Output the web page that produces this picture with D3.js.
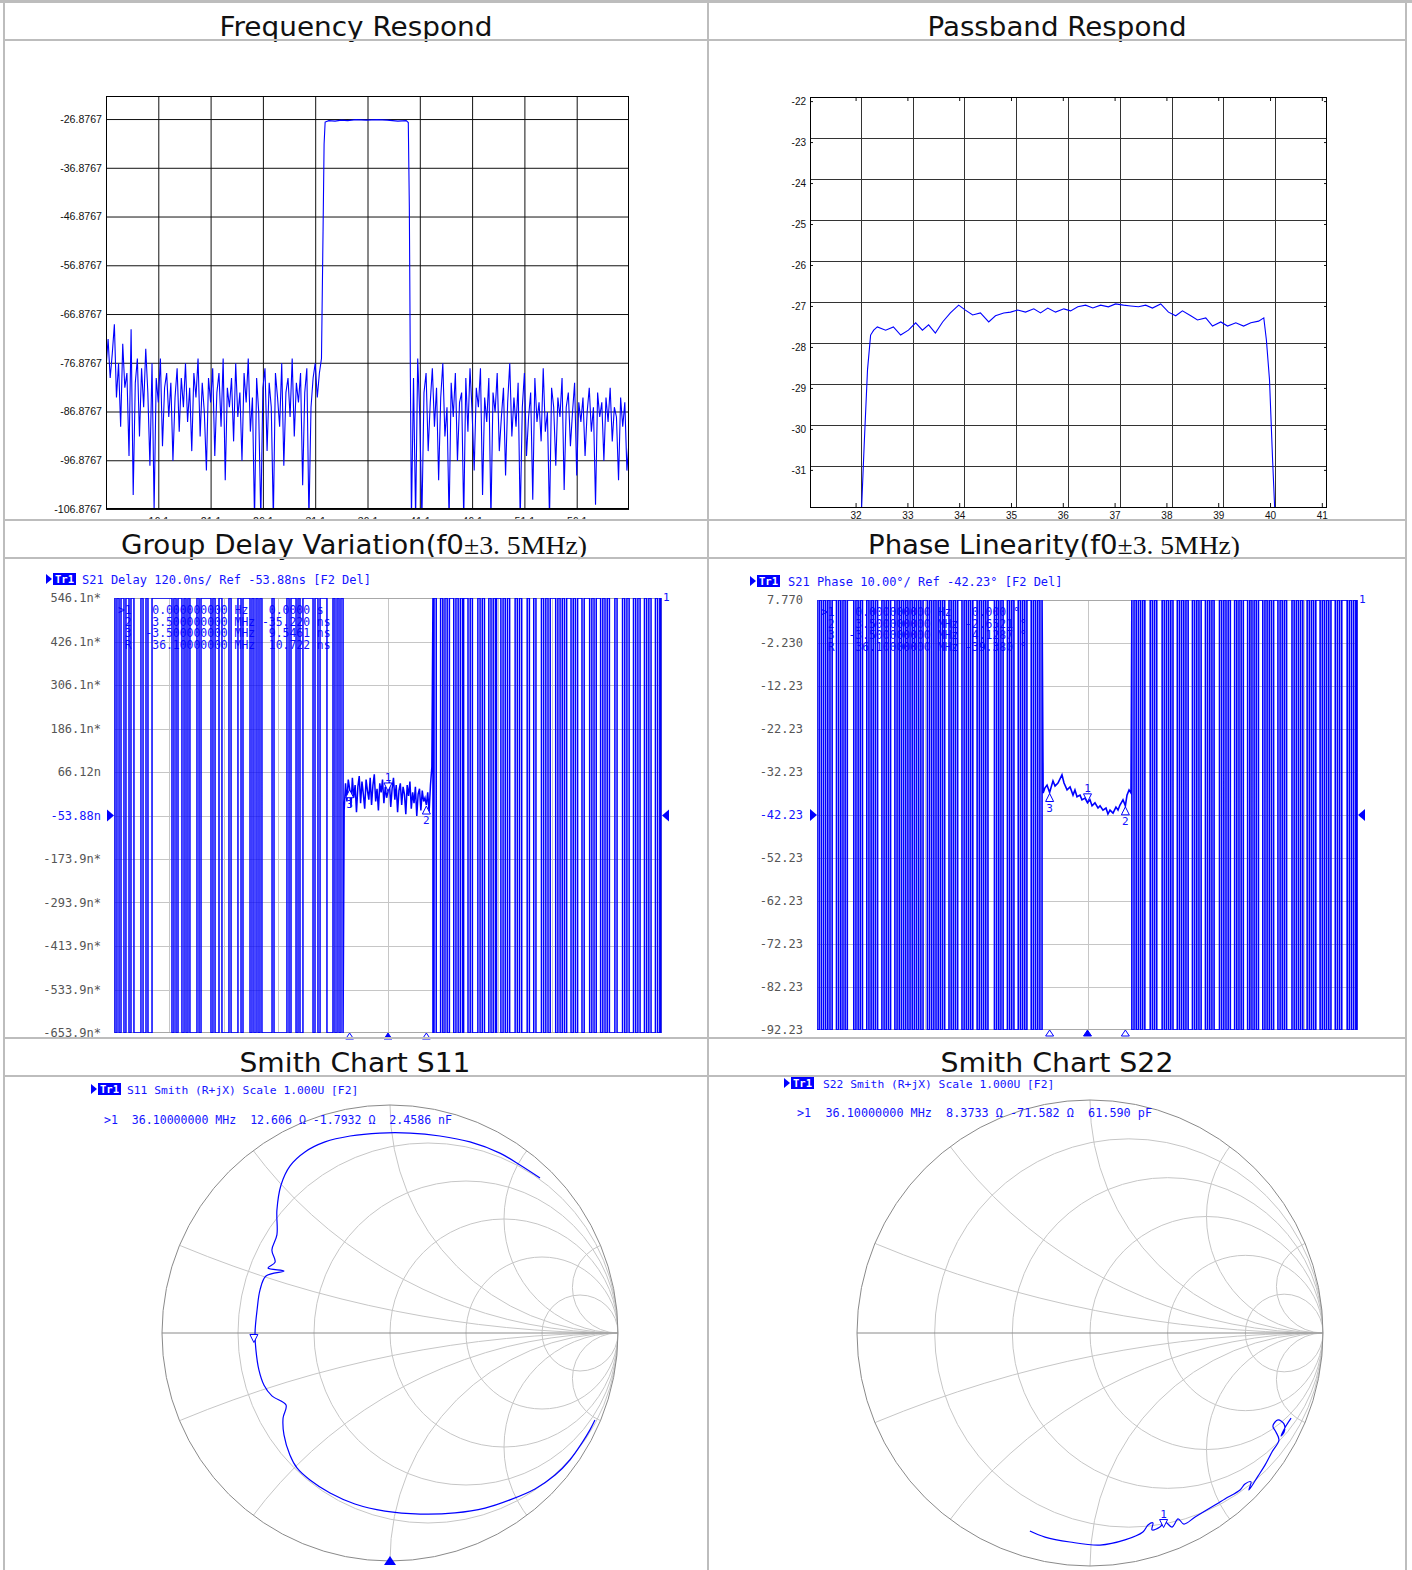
<!DOCTYPE html>
<html>
<head>
<meta charset="utf-8">
<script src="https://cdn.jsdelivr.net/npm/d3@7/dist/d3.min.js"></script>
<style>
body { margin: 0; background: #fff; }
svg { display: block; }
</style>
</head>
<body>
<svg id="sheet" width="1412" height="1570"></svg>
<script>

// ---------- Frequency Respond (dB vs MHz) ----------
var frXTicks = [16.1, 21.1, 26.1, 31.1, 36.1, 41.1, 46.1, 51.1, 56.1];
var frYTicks = [-26.8767, -36.8767, -46.8767, -56.8767, -66.8767, -76.8767, -86.8767, -96.8767, -106.8767];
var frStep = 0.2;
var frLowStart = 11.1;
var frLowDb = [
    -78, -72, -80, -75, -69, -84, -77, -90, -73, -82,
    -79, -96, -70, -104, -81, -76, -92, -78, -86, -74,
    -83, -98, -77, -107, -80, -85, -76, -94, -82, -79,
    -88, -81, -97, -84, -78, -91, -80, -86, -77, -89,
    -82, -95, -79, -84, -76, -92, -81, -87, -99, -80,
    -85, -78, -96, -83, -79, -90, -76, -101, -82, -86,
    -80, -93, -77, -88, -83, -97, -79, -85, -76, -91,
    -84, -109, -80, -87, -109, -82, -78, -95, -81, -86,
    -109, -79, -84, -90, -77, -98, -83, -80, -88, -76,
    -92, -81, -85, -79, -102, -83, -78, -109, -86, -80,
    -77, -84, -79
];
var frEdgeF  = [31.7, 31.85, 31.95, 32.05, 32.4, 33.0, 33.6, 34.2, 35.0, 36.0, 37.0, 38.0, 39.0, 39.8, 40.0, 40.1, 40.2, 40.3];
var frEdgeDb = [-76, -50, -32, -27.5, -27.2, -27.3, -27.1, -27.2, -27.0, -27.1, -27.0, -27.1, -27.3, -27.2, -27.6, -45, -80, -109];
var frHighStart = 40.5;
var frHighDb = [
    -80, -109, -76, -88, -109, -83, -79, -95, -85, -78,
    -90, -82, -101, -84, -77, -92, -86, -109, -81, -88,
    -79, -97, -85, -83, -109, -80, -91, -78, -87, -99,
    -82, -86, -78, -104, -84, -89, -80, -109, -83, -87,
    -79, -95, -88, -82, -100, -85, -77, -92, -84, -90,
    -81, -109, -86, -79, -96, -88, -83, -105, -80, -89,
    -85, -93, -78, -91, -87, -109, -82, -86, -98, -84,
    -88, -80, -103, -86, -83, -94, -87, -81, -100, -85,
    -89, -84, -96, -87, -82, -91, -86, -106, -83, -88,
    -85, -97, -84, -89, -82, -93, -86, -88, -101, -84,
    -90, -85, -99, -93
];

// ---------- Passband Respond ----------
var pbXTicks = [32, 33, 34, 35, 36, 37, 38, 39, 40, 41];
var pbXGrid = [32.1, 33.1, 34.1, 35.1, 36.1, 37.1, 38.1, 39.1, 40.1];
var pbYTicks = [-22, -23, -24, -25, -26, -27, -28, -29, -30, -31];
var pbYGrid = [-22.9, -23.9, -24.9, -25.9, -26.9, -27.9, -28.9, -29.9, -30.9];
var pbF = [32.116, 32.17, 32.23, 32.29, 32.35, 32.42, 32.58, 32.73, 32.87, 33.02, 33.16, 33.29, 33.41, 33.54, 33.68,
    33.83, 33.99, 34.12, 34.26, 34.41, 34.57, 34.70, 34.86, 34.99, 35.13, 35.28, 35.44, 35.57, 35.71, 35.86,
    36.02, 36.15, 36.29, 36.44, 36.58, 36.73, 36.88, 37.02, 37.17, 37.31, 37.46, 37.60, 37.73, 37.89, 38.04,
    38.18, 38.31, 38.47, 38.60, 38.76, 38.89, 39.05, 39.18, 39.34, 39.49, 39.63, 39.78, 39.88, 39.93, 39.99,
    40.05, 40.09];
var pbDb = [-31.93, -30.27, -28.56, -27.71, -27.59, -27.51, -27.59, -27.51, -27.71, -27.59, -27.41, -27.59, -27.46, -27.66, -27.39,
    -27.17, -26.98, -27.10, -27.22, -27.17, -27.39, -27.24, -27.17, -27.15, -27.10, -27.15, -27.07, -27.17, -27.05, -27.15,
    -27.07, -27.12, -27.02, -26.98, -27.05, -26.98, -27.02, -26.95, -26.98, -27.00, -27.02, -26.98, -27.05, -26.95, -27.15,
    -27.24, -27.12, -27.24, -27.34, -27.29, -27.49, -27.39, -27.49, -27.41, -27.49, -27.41, -27.37, -27.29, -27.83, -28.80,
    -30.76, -31.93];

// ---------- analyzer screens (shared 11.1 .. 61.1 MHz sweep) ----------
var vnaXGrid = [11.1, 16.1, 21.1, 26.1, 31.1, 36.1, 41.1, 46.1, 51.1, 56.1, 61.1];

var gdYTicks = [546.12, 426.12, 306.12, 186.12, 66.12, -53.88, -173.88, -293.88, -413.88, -533.88, -653.88];
var gdYLabels = ["546.1n*", "426.1n*", "306.1n*", "186.1n*", "66.12n", "-53.88n", "-173.9n*", "-293.9n*", "-413.9n*", "-533.9n*", "-653.9n*"];
var gdLeftLines = [11.19, 11.37, 11.56, 11.74, 12.01, 12.19, 12.47, 12.65, 12.92, 13.56, 13.75, 14.02, 14.20, 14.57,
    16.39, 16.57, 16.76, 16.94, 17.30, 17.49, 17.67, 17.85, 18.03, 18.67, 18.86, 19.04, 19.95, 20.13, 20.32,
    20.68, 20.95, 21.59, 21.78, 22.41, 22.69, 22.87, 23.51, 23.69, 23.87, 24.06, 24.24, 24.42, 24.60, 25.52,
    25.70, 26.88, 27.07, 27.25, 27.71, 27.89, 28.07, 28.34, 29.26, 29.44, 29.71, 29.90, 30.53, 31.08, 31.26,
    31.45, 31.63, 31.81, 32.0];
var gdRightLines = [40.2, 40.3, 40.5, 40.9, 41.1, 41.3, 41.5, 41.7, 42.1, 42.3, 42.5, 42.7, 42.9, 43.0, 43.4, 43.6,
    43.8, 44.3, 44.5, 44.7, 44.9, 45.3, 45.5, 45.7, 45.9, 46.0, 46.4, 46.6, 46.8, 47.0, 47.2, 47.7, 47.9, 48.1,
    48.3, 48.8, 49.0, 49.4, 49.6, 50.1, 50.3, 50.5, 50.7, 50.9, 51.4, 51.6, 51.8, 52.0, 52.2, 52.4, 52.8, 53.0,
    53.2, 53.4, 53.8, 54.0, 54.5, 54.7, 54.9, 55.1, 55.5, 55.7, 55.9, 56.1, 56.3, 56.8, 57.0, 57.5, 57.7, 57.9,
    58.1, 58.5, 58.7, 58.9, 59.1, 59.5, 59.7, 59.9, 60.1, 60.5, 60.7, 60.9, 61.0];
var gdPassStart = 32.1, gdPassStep = 0.125;
var gdPassNs = [
    -40, 35, -15, 45, 20, -30, 50, -5, 30, -45,
    25, 55, -20, 40, 5, -35, 45, 15, -10, 50,
    -25, 30, 60, -15, 20, -40, 35, 10, 45, -20,
    25, -5, 11, 40, -30, 20, 50, -10, 30, -45,
    15, 35, -25, 25, 5, -50, 30, 0, 40, -35,
    10, -20, 25, -55, 5, 20, -40, 15, -15, -5,
    -25, 10, -45, 30, 80
];
var gdTableRows = [
    ">1   0.000000000 Hz   0.0000 s",
    " 2   3.500000000 MHz -35.220 ns",
    " 3  -3.500000000 MHz  9.5461 ns",
    " R   36.10000000 MHz  10.722 ns"
];

var phYTicks = [7.77, -2.23, -12.23, -22.23, -32.23, -42.23, -52.23, -62.23, -72.23, -82.23, -92.23];
var phYLabels = ["7.770", "-2.230", "-12.23", "-22.23", "-32.23", "-42.23", "-52.23", "-62.23", "-72.23", "-82.23", "-92.23"];
var phLeftLines = [11.1, 11.3, 11.5, 11.7, 11.9, 12.1, 12.3, 12.5, 12.9, 13.1, 13.3, 13.5, 13.7, 13.9, 14.5, 14.7,
    14.9, 15.1, 15.3, 15.7, 15.9, 16.1, 16.3, 16.5, 16.7, 17.1, 17.3, 17.5, 17.7, 17.9, 18.3, 18.5, 18.7, 18.9,
    19.1, 19.3, 19.5, 19.7, 19.9, 20.1, 20.3, 20.5, 20.7, 20.9, 21.3, 21.5, 21.7, 21.9, 22.1, 22.3, 22.5, 22.7,
    22.9, 23.3, 23.5, 23.7, 23.9, 24.1, 24.5, 24.7, 24.9, 25.1, 25.3, 25.5, 25.9, 26.1, 26.3, 26.5, 26.7, 26.9,
    27.5, 27.7, 27.9, 28.1, 28.3, 28.7, 28.9, 29.1, 29.3, 29.7, 29.9, 30.1, 30.3, 30.5, 30.9, 31.1, 31.3, 31.5,
    31.7, 31.9];
var phRightLines = [40.2, 40.4, 40.6, 40.8, 41.0, 41.2, 41.4, 41.9, 42.1, 42.3, 42.5, 43.0, 43.2, 43.4, 43.6, 43.8,
    44.0, 44.4, 44.6, 44.8, 45.0, 45.2, 45.4, 45.8, 46.0, 46.2, 46.4, 46.6, 47.0, 47.2, 47.4, 47.6, 47.8, 48.3,
    48.5, 48.7, 48.9, 49.1, 49.3, 49.7, 49.9, 50.1, 50.3, 50.5, 50.9, 51.1, 51.3, 51.5, 51.7, 51.9, 52.3, 52.5,
    52.7, 52.9, 53.1, 53.3, 53.7, 53.9, 54.1, 54.3, 54.5, 55.0, 55.2, 55.4, 55.6, 55.8, 56.0, 56.4, 56.6, 56.8,
    57.0, 57.2, 57.6, 57.8, 58.0, 58.2, 58.4, 58.6, 59.0, 59.2, 59.4, 59.6, 60.1, 60.3, 60.5, 60.7, 60.9, 61.0];
var phFreq = [32.0, 32.17, 32.36, 32.6, 32.91, 33.1, 33.37, 33.74, 33.93, 34.21, 34.49, 34.76, 34.94, 35.13, 35.41,
    35.59, 35.87, 36.1, 36.33, 36.52, 36.79, 37.07, 37.26, 37.53, 37.81, 37.99, 38.18, 38.46, 38.73, 38.92,
    39.1, 39.38, 39.6, 39.75, 39.94, 40.12];
var phDeg = [-37.1, -35.9, -35.3, -37.0, -34.3, -35.5, -34.8, -32.9, -34.8, -36.4, -35.7, -37.6, -36.4, -38.0, -37.6,
    -38.7, -38.3, -39.4, -38.7, -40.1, -39.4, -40.6, -40.1, -41.1, -40.6, -42.0, -41.1, -41.8, -40.4, -41.1,
    -39.9, -38.7, -40.1, -37.6, -36.4, -37.1];
var phTableRows = [
    ">1   0.000000000 Hz   0.000 °",
    " 2   3.500000000 MHz -2.6521 °",
    " 3  -3.500000000 MHz  4.1287 °",
    " R   36.10000000 MHz -39.380 °"
];
var markerFreqs = [36.1, 39.6, 32.6];   // markers 1, 2, 3

// ---------- Smith charts (reflection coefficient, re / im) ----------
var smithR = [0.2, 0.5, 1, 2, 5];
var smithX = [0.2, 0.5, 1, 2, 5];
var s11Re = [0.658, 0.570, 0.482, 0.351, 0.219, 0.088, -0.044, -0.175, -0.285, -0.373,
    -0.439, -0.478, -0.496, -0.496, -0.518, -0.504, -0.535, -0.465, -0.544, -0.570,
    -0.583, -0.592, -0.588, -0.575, -0.553, -0.518, -0.456, -0.469, -0.465, -0.439,
    -0.408, -0.351, -0.263, -0.154, -0.022, 0.132, 0.285, 0.417, 0.526, 0.636,
    0.724, 0.789, 0.842, 0.877, 0.899];
var s11Im = [0.680, 0.737, 0.789, 0.838, 0.864, 0.877, 0.877, 0.864, 0.838, 0.794,
    0.732, 0.649, 0.539, 0.430, 0.364, 0.311, 0.285, 0.272, 0.250, 0.189,
    0.101, 0.0, -0.075, -0.162, -0.228, -0.276, -0.316, -0.373, -0.447, -0.535,
    -0.592, -0.645, -0.702, -0.750, -0.781, -0.794, -0.789, -0.768, -0.732, -0.684,
    -0.623, -0.557, -0.482, -0.425, -0.382];
var s11Marker = [-0.597, -0.046];
var s22Re = [-0.258, -0.193, -0.086, 0.043, 0.150, 0.227, 0.249, 0.270, 0.266, 0.300,
    0.322, 0.352, 0.378, 0.403, 0.451, 0.515, 0.579, 0.644, 0.665, 0.691,
    0.682, 0.721, 0.751, 0.781, 0.811, 0.798, 0.785, 0.807, 0.833, 0.833,
    0.820, 0.841, 0.863];
var s22Im = [-0.850, -0.876, -0.897, -0.910, -0.888, -0.854, -0.824, -0.815, -0.845, -0.833,
    -0.811, -0.833, -0.798, -0.820, -0.790, -0.751, -0.712, -0.674, -0.648, -0.639,
    -0.674, -0.614, -0.567, -0.511, -0.459, -0.425, -0.399, -0.373, -0.391, -0.425,
    -0.442, -0.399, -0.365];
var s22Marker = [0.3158, -0.8392];


var svg = d3.select("#sheet");
var BLUE = "#0000ff", TXT = "#1414ff", GRID = "#c6c6c6", FRAME = "#bdbdbd";
var MONO = "'DejaVu Sans Mono', monospace";
var SANS = "'Liberation Sans', Arial, sans-serif";

function clip_rect(id, x, y, w, h) {
    svg.append("clipPath").attr("id", id).append("rect")
        .attr("x", x).attr("y", y).attr("width", w).attr("height", h);
    return "url(#" + id + ")";
}

function style_axis(a, size) {
    a.select(".domain").remove();
    a.selectAll("line").attr("stroke", "#111");
    a.selectAll("text").attr("fill", "#111").style("font", size + "px " + SANS);
}


function draw_freq_respond() {
    var g = svg.append("g").attr("clip-path", clip_rect("cell_fr", 5, 41, 702, 478));
    var x = d3.scaleLinear().domain([11.1, 61.1]).range([106, 629]);
    var y = d3.scaleLinear().domain([-22.15, -106.8767]).range([96, 509]);

    style_axis(g.append("g").attr("transform", "translate(106,0)")
        .call(d3.axisLeft(y).tickValues(frYTicks).tickSize(-523).tickPadding(4)
            .tickFormat(function(d) { return d.toFixed(4); })), 10.6);
    style_axis(g.append("g").attr("transform", "translate(0,509)")
        .call(d3.axisBottom(x).tickValues(frXTicks).tickSize(-413).tickPadding(8)
            .tickFormat(function(d) { return d.toFixed(1); })), 10.6);

    var pts = [];
    frLowDb.forEach(function(v, i) { pts.push([frLowStart + i * frStep, v]); });
    frEdgeF.forEach(function(f, i) { pts.push([f, frEdgeDb[i]]); });
    frHighDb.forEach(function(v, i) { pts.push([frHighStart + i * frStep, v]); });

    g.append("path").datum(pts)
        .attr("clip-path", clip_rect("plot_fr", 106, 96, 523, 413))
        .attr("d", d3.line().x(function(d) { return x(d[0]); }).y(function(d) { return y(d[1]); }))
        .attr("fill", "none").attr("stroke", BLUE).attr("stroke-width", 1.1);

    g.append("rect").attr("x", 106.5).attr("y", 96.5).attr("width", 522).attr("height", 412)
        .attr("fill", "none").attr("stroke", "#000");
}


function draw_passband() {
    var g = svg.append("g").attr("clip-path", clip_rect("cell_pb", 709, 41, 696, 478));
    var x = d3.scaleLinear().domain([31.12, 41.1]).range([810, 1327]);
    var y = d3.scaleLinear().domain([-21.9, -31.93]).range([97, 508]);
    var plain = function(d) { return String(d); };

    // grid sits 0.1 off the labelled ticks
    g.selectAll("line.vg").data(pbXGrid).enter().append("line").attr("class", "vg")
        .attr("x1", function(d) { return Math.round(x(d)) + 0.5; })
        .attr("x2", function(d) { return Math.round(x(d)) + 0.5; })
        .attr("y1", 97).attr("y2", 508).attr("stroke", "#333");
    g.selectAll("line.hg").data(pbYGrid).enter().append("line").attr("class", "hg")
        .attr("y1", function(d) { return Math.round(y(d)) + 0.5; })
        .attr("y2", function(d) { return Math.round(y(d)) + 0.5; })
        .attr("x1", 810).attr("x2", 1327).attr("stroke", "#333");

    style_axis(g.append("g").attr("transform", "translate(810,0)")
        .call(d3.axisLeft(y).tickValues(pbYTicks).tickSize(-3).tickPadding(4).tickFormat(plain)), 10);
    style_axis(g.append("g").attr("transform", "translate(1327,0)")
        .call(d3.axisRight(y).tickValues(pbYTicks).tickSize(-3).tickFormat("")), 10);
    style_axis(g.append("g").attr("transform", "translate(0,508)")
        .call(d3.axisBottom(x).tickValues(pbXTicks).tickSize(-5).tickPadding(4).tickFormat(plain)), 10);
    style_axis(g.append("g").attr("transform", "translate(0,97)")
        .call(d3.axisTop(x).tickValues(pbXTicks).tickSize(-4).tickFormat("")), 10);

    g.append("path").datum(pbF.map(function(f, i) { return [f, pbDb[i]]; }))
        .attr("clip-path", clip_rect("plot_pb", 810, 97, 517, 411))
        .attr("d", d3.line().x(function(d) { return x(d[0]); }).y(function(d) { return y(d[1]); }))
        .attr("fill", "none").attr("stroke", BLUE).attr("stroke-width", 1.1);

    g.append("rect").attr("x", 810.5).attr("y", 97.5).attr("width", 516).attr("height", 410)
        .attr("fill", "none").attr("stroke", "#000");
}


// clipped trace: alternate full-height strokes through the listed frequencies
function zigzag(lines, lo, hi) {
    var pts = [];
    lines.forEach(function(f, i) {
        if (i % 2 === 0) { pts.push([f, hi]); pts.push([f, lo]); }
        else { pts.push([f, lo]); pts.push([f, hi]); }
    });
    return pts;
}

function interp(pts, f) {
    var i = d3.bisector(function(d) { return d[0]; }).left(pts, f);
    if (i <= 0) return pts[0][1];
    if (i >= pts.length) return pts[pts.length - 1][1];
    var a = pts[i - 1], b = pts[i];
    return a[1] + (b[1] - a[1]) * (f - a[0]) / (b[0] - a[0]);
}

function tr_header(g, x, base, textX, text, size) {
    g.append("path").attr("d", "M" + x + "," + (base - 10) + "l6,5l-6,5z").attr("fill", BLUE);
    g.append("rect").attr("x", x + 7).attr("y", base - 11).attr("width", 23).attr("height", 12).attr("fill", BLUE);
    g.append("text").attr("x", x + 9).attr("y", base - 1).attr("fill", "#fff")
        .style("font", "bold 10.5px " + MONO).text("Tr1");
    g.append("text").attr("x", textX).attr("y", base).attr("fill", TXT)
        .style("font", size + "px " + MONO).style("white-space", "pre").text(text);
}


function draw_vna(c) {
    var g = svg.append("g");
    var x = d3.scaleLinear().domain([vnaXGrid[0], vnaXGrid[vnaXGrid.length - 1]]).range([c.x0, c.x1]);
    var y = d3.scaleLinear().domain([c.yTicks[0], c.yTicks[c.yTicks.length - 1]]).range([c.y0, c.y1]);
    var hi = c.yTicks[0], lo = c.yTicks[c.yTicks.length - 1];

    g.selectAll("line.vg").data(vnaXGrid.slice(1, -1)).enter().append("line").attr("class", "vg")
        .attr("x1", function(d) { return Math.round(x(d)) + 0.5; })
        .attr("x2", function(d) { return Math.round(x(d)) + 0.5; })
        .attr("y1", c.y0).attr("y2", c.y1).attr("stroke", GRID);
    g.selectAll("line.hg").data(c.yTicks.slice(1, -1)).enter().append("line").attr("class", "hg")
        .attr("y1", function(d) { return Math.round(y(d)) + 0.5; })
        .attr("y2", function(d) { return Math.round(y(d)) + 0.5; })
        .attr("x1", c.x0).attr("x2", c.x1).attr("stroke", GRID);
    g.append("rect").attr("x", c.x0 + 0.5).attr("y", c.y0 + 0.5)
        .attr("width", c.x1 - c.x0 - 1).attr("height", c.y1 - c.y0 - 1)
        .attr("fill", "none").attr("stroke", "#a8a8a8");

    g.selectAll("text.yl").data(c.yTicks).enter().append("text").attr("class", "yl")
        .attr("x", c.x0 - c.labelGap).attr("y", function(d) { return y(d) + 4; })
        .attr("text-anchor", "end")
        .attr("fill", function(d, i) { return i === c.refIndex ? TXT : "#555"; })
        .style("font", "12px " + MONO)
        .text(function(d, i) { return c.yLabels[i]; });

    // marker table, sits under the trace
    g.selectAll("text.tb").data(c.table).enter().append("text").attr("class", "tb")
        .attr("x", c.tableX).attr("y", function(d, i) { return c.tableY + i * 11.7; })
        .attr("fill", TXT).style("font", "11.4px " + MONO).style("white-space", "pre")
        .text(function(d) { return d; });

    var pts = zigzag(c.leftLines, lo, hi).concat(c.pass, zigzag(c.rightLines, lo, hi));
    g.append("path").datum(pts)
        .attr("clip-path", clip_rect(c.id + "_plot", c.x0, c.y0, c.x1 - c.x0, c.y1 - c.y0))
        .attr("d", d3.line().x(function(d) { return x(d[0]); }).y(function(d) { return y(d[1]); }))
        .attr("fill", "none").attr("stroke", BLUE).attr("stroke-width", c.strokeW);

    // trace markers
    markerFreqs.forEach(function(f, i) {
        var mx = x(f), my = y(interp(c.pass, f));
        var mg = g.append("g").attr("fill", "#fff").attr("stroke", BLUE).attr("stroke-width", 1);
        if (i === 0) {
            mg.append("path").attr("d", "M" + (mx - 4) + "," + (my - 9) + "h8l-4,8z");
            g.append("text").attr("x", mx).attr("y", my - 11).attr("text-anchor", "middle")
                .attr("fill", TXT).style("font", "11px " + MONO).text("1");
        } else {
            mg.append("path").attr("d", "M" + (mx - 4) + "," + (my + 9) + "h8l-4,-8z");
            g.append("text").attr("x", mx).attr("y", my + 19).attr("text-anchor", "middle")
                .attr("fill", TXT).style("font", "11px " + MONO).text(String(i + 1));
        }
        // stimulus markers under the grid
        g.append("path").attr("d", "M" + (mx - 4) + "," + (c.y1 + 6) + "h8l-4,-6z")
            .attr("fill", i === 0 ? BLUE : "#fff").attr("stroke", BLUE);
    });

    // reference level arrows and channel number
    var ry = y(c.yTicks[c.refIndex]);
    g.append("path").attr("d", "M" + (c.x0 - 7) + "," + (ry - 6) + "L" + c.x0 + "," + ry + "L" + (c.x0 - 7) + "," + (ry + 6) + "z").attr("fill", BLUE);
    g.append("path").attr("d", "M" + (c.x1 + 7) + "," + (ry - 6) + "L" + c.x1 + "," + ry + "L" + (c.x1 + 7) + "," + (ry + 6) + "z").attr("fill", BLUE);
    g.append("text").attr("x", c.x1 + 1).attr("y", c.y0 + 3).attr("fill", TXT)
        .style("font", "11px " + MONO).text("1");

    tr_header(g, c.headX, c.headY, c.headTextX, c.header, 12);
}


function draw_smith(c) {
    var g = svg.append("g");
    var sx = d3.scaleLinear().domain([-1, 1]).range([c.cx - c.R, c.cx + c.R]);
    var sy = d3.scaleLinear().domain([-1, 1]).range([c.cy + c.R, c.cy - c.R]);
    var k = c.R;

    svg.append("clipPath").attr("id", c.id + "_disc").append("circle")
        .attr("cx", c.cx).attr("cy", c.cy).attr("r", c.R);
    var grid = g.append("g").attr("clip-path", "url(#" + c.id + "_disc)")
        .attr("fill", "none").attr("stroke", GRID).attr("stroke-width", 1);
    smithR.forEach(function(r) {
        grid.append("circle").attr("cx", sx(r / (1 + r))).attr("cy", sy(0)).attr("r", k / (1 + r));
    });
    smithX.forEach(function(xv) {
        [1, -1].forEach(function(s) {
            grid.append("circle").attr("cx", sx(1)).attr("cy", sy(s / xv)).attr("r", k / xv);
        });
    });
    g.append("line").attr("x1", sx(-1)).attr("x2", sx(1)).attr("y1", sy(0)).attr("y2", sy(0))
        .attr("stroke", "#8a8a8a");
    g.append("circle").attr("cx", c.cx).attr("cy", c.cy).attr("r", c.R)
        .attr("fill", "none").attr("stroke", "#8a8a8a");

    tr_header(g, c.headX, c.headY, c.headTextX, c.header, 11.3);
    g.append("text").attr("x", c.markX).attr("y", c.markY)
        .attr("textLength", c.markW).attr("lengthAdjust", "spacingAndGlyphs")
        .attr("fill", TXT).style("font", "11.4px " + MONO).style("white-space", "pre")
        .text(c.markLine);

    g.append("path").datum(c.re.map(function(r, i) { return [r, c.im[i]]; }))
        .attr("d", d3.line().x(function(d) { return sx(d[0]); }).y(function(d) { return sy(d[1]); })
            .curve(d3.curveCatmullRom.alpha(0.5)))
        .attr("fill", "none").attr("stroke", BLUE).attr("stroke-width", 1.2);

    var mx = sx(c.marker[0]), my = sy(c.marker[1]);
    g.append("path").attr("d", "M" + (mx - 4) + "," + (my - 9) + "h8l-4,8z")
        .attr("fill", "#fff").attr("stroke", BLUE);
    if (c.markerLabel) {
        g.append("text").attr("x", mx).attr("y", my - 11).attr("text-anchor", "middle")
            .attr("fill", TXT).style("font", "11px " + MONO).text("1");
    }
    if (c.bottomArrow) {
        g.append("path").attr("d", "M" + (sx(0) - 6) + "," + (sy(-1) + 4) + "h12l-6,-9z").attr("fill", BLUE);
    }
}


function draw_titles() {
    var rows = [
        { a: "Frequency Respond", b: "", cx: 356, y: 36, w: 273 },
        { a: "Passband Respond", b: "", cx: 1057, y: 36, w: 259 },
        { a: "Group Delay Variation(f0", b: "±3. 5MHz)", cx: 354, y: 554, w: 466 },
        { a: "Phase Linearity(f0", b: "±3. 5MHz)", cx: 1054, y: 554, w: 372 },
        { a: "Smith Chart S11", b: "", cx: 355, y: 1072, w: 231 },
        { a: "Smith Chart S22", b: "", cx: 1057, y: 1072, w: 233 }
    ];
    rows.forEach(function(r) {
        var t = svg.append("text").attr("x", r.cx).attr("y", r.y).attr("text-anchor", "middle")
            .attr("textLength", r.w).attr("lengthAdjust", "spacingAndGlyphs")
            .attr("fill", "#111").style("font-size", "26px").style("font-family", "'DejaVu Sans', sans-serif");
        t.append("tspan").text(r.a);
        if (r.b) t.append("tspan").style("font-family", "'Liberation Serif', serif").text(r.b);
    });
}

function draw_table_lines() {
    var g = svg.append("g").attr("fill", FRAME);
    g.append("rect").attr("x", 0).attr("y", 0).attr("width", 1412).attr("height", 3);
    [3, 707, 1405].forEach(function(v) {
        g.append("rect").attr("x", v).attr("y", 0).attr("width", 2).attr("height", 1570);
    });
    [39, 519, 557, 1037, 1075].forEach(function(v) {
        g.append("rect").attr("x", 3).attr("y", v).attr("width", 1404).attr("height", 2);
    });
}


draw_freq_respond();
draw_passband();

draw_vna({
    id: "gd", x0: 114, x1: 662, y0: 598, y1: 1033, labelGap: 13,
    yTicks: gdYTicks, yLabels: gdYLabels, refIndex: 5,
    leftLines: gdLeftLines, rightLines: gdRightLines, strokeW: 1.5,
    pass: gdPassNs.map(function(v, i) { return [gdPassStart + i * gdPassStep, v]; }),
    table: gdTableRows, tableX: 118, tableY: 614,
    headX: 46, headY: 584, headTextX: 82,
    header: "S21 Delay 120.0ns/ Ref -53.88ns [F2 Del]"
});

draw_vna({
    id: "ph", x0: 817, x1: 1358, y0: 600, y1: 1030, labelGap: 14,
    yTicks: phYTicks, yLabels: phYLabels, refIndex: 5,
    leftLines: phLeftLines, rightLines: phRightLines, strokeW: 1.6,
    pass: phFreq.map(function(f, i) { return [f, phDeg[i]]; }),
    table: phTableRows, tableX: 821, tableY: 616,
    headX: 750, headY: 586, headTextX: 788,
    header: "S21 Phase 10.00°/ Ref -42.23° [F2 Del]"
});

draw_smith({
    id: "s11", cx: 390, cy: 1333, R: 228, re: s11Re, im: s11Im, marker: s11Marker,
    markerLabel: false, bottomArrow: true,
    headX: 91, headY: 1094, headTextX: 127,
    header: "S11 Smith (R+jX) Scale 1.000U [F2]",
    markX: 104, markY: 1124, markW: 348,
    markLine: ">1  36.10000000 MHz  12.606 Ω -1.7932 Ω  2.4586 nF"
});

draw_smith({
    id: "s22", cx: 1090, cy: 1333, R: 233, re: s22Re, im: s22Im, marker: s22Marker,
    markerLabel: true, bottomArrow: false,
    headX: 784, headY: 1088, headTextX: 823,
    header: "S22 Smith (R+jX) Scale 1.000U [F2]",
    markX: 797, markY: 1117, markW: 355,
    markLine: ">1  36.10000000 MHz  8.3733 Ω -71.582 Ω  61.590 pF"
});

draw_titles();
draw_table_lines();

</script>
</body>
</html>
